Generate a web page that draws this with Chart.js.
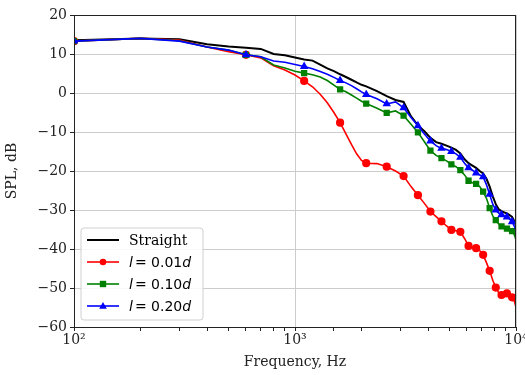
<!DOCTYPE html>
<html>
<head>
<meta charset="utf-8">
<script src="https://cdn.jsdelivr.net/npm/chart.js@4/dist/chart.umd.min.js"></script>
<style>
  html, body { margin: 0; padding: 0; background: #fff; }
  #wrap { width: 525px; height: 375px; }
</style>
</head>
<body>
<div id="wrap"><canvas id="grafica" width="525" height="375"></canvas></div>
<script>
// frecuencias (Hz)
const freq = [100, 200, 300, 400, 500, 600, 700, 800, 900, 1000,
  1100, 1200, 1300, 1400, 1500, 1600, 1700, 1800, 1900, 2000,
  2100, 2350, 2600, 2850, 3100, 3350, 3600, 3850, 4100, 4350,
  4600, 4850, 5100, 5350, 5600, 5850, 6100, 6350, 6600, 6850,
  7100, 7350, 7600, 7850, 8100, 8350, 8600, 8850, 9100, 9350,
  9600, 9850, 10000];

const straight = [13.5, 14.0, 13.8, 12.5, 11.9, 11.6, 11.3, 10.0, 9.7, 9.1,
  8.6, 8.3, 7.3, 6.3, 5.6, 4.8, 4.1, 3.4, 2.7, 2.1,
  1.7, 0.5, -0.8, -1.8, -2.3, -6.0, -8.3, -9.8, -11.5, -12.6,
  -13.0, -13.5, -14.0, -14.6, -15.5, -17.0, -18.0, -18.6, -19.2, -20.0,
  -20.6, -22.0, -24.0, -26.5, -28.5, -29.8, -30.3, -30.6, -30.9, -31.3,
  -31.8, -33.0, -34.0];

const l001 = [13.3, 14.0, 13.6, 11.8, 10.6, 9.8, 9.0, 7.0, 5.9, 4.6,
  3.1, 1.6, -0.3, -2.5, -5.0, -7.6, -10.5, -13.2, -15.6, -17.3,
  -18.0, -18.1, -18.9, -20.0, -21.3, -24.0, -26.2, -28.3, -30.4, -31.7,
  -32.9, -34.1, -35.1, -35.3, -35.6, -37.3, -39.2, -39.6, -39.8, -40.4,
  -41.5, -43.5, -45.6, -48.0, -49.9, -51.2, -51.8, -51.5, -51.4, -52.0,
  -52.4, -53.5, -55.0];

const l010 = [13.3, 14.0, 13.4, 11.8, 11.0, 9.8, 9.3, 7.2, 6.4, 5.6,
  5.1, 4.7, 4.1, 3.2, 2.0, 0.9, 0.3, -0.5, -1.3, -2.1,
  -2.7, -3.9, -5.1, -4.6, -5.8, -8.0, -10.1, -12.5, -14.8, -16.0,
  -16.7, -17.4, -18.3, -18.9, -19.8, -21.0, -22.5, -23.0, -23.3, -24.0,
  -25.3, -27.0, -29.5, -31.5, -32.6, -33.6, -34.2, -34.5, -34.8, -35.1,
  -35.4, -36.5, -37.7];

const l020 = [13.3, 14.0, 13.3, 11.8, 11.0, 9.8, 9.3, 8.2, 7.9, 7.3,
  6.8, 6.2, 5.5, 4.8, 4.0, 3.2, 2.6, 1.9, 1.1, 0.3,
  -0.4, -1.5, -2.8, -2.3, -3.8, -6.3, -8.4, -10.5, -12.3, -13.5,
  -14.2, -14.5, -15.0, -15.6, -16.5, -18.0, -19.2, -19.8, -20.5, -21.0,
  -21.5, -23.5, -26.0, -28.5, -30.0, -30.8, -31.2, -31.5, -31.8, -32.3,
  -33.0, -34.3, -35.2];

const etiquetas = ['Straight', 'l = 0.01d', 'l = 0.10d', 'l = 0.20d'];

function puntos(arr) {
  return freq.map((f, i) => ({ x: f, y: arr[i] }));
}

// marcador cada 500 Hz (100, 600, 1100, ...)
function conMarcador(ctx) {
  return ctx.raw && (ctx.raw.x - 100) % 500 === 0 ? 3.3 : 0;
}

function esMayor(v) {
  const l = Math.log10(v);
  return Math.abs(l - Math.round(l)) < 1e-9;
}

const serif = '"DejaVu Serif", serif';

// leyenda dentro del area, abajo a la izquierda
const leyendaPlugin = {
  id: 'leyenda',
  afterDatasetsDraw(chart) {
    const c = chart.ctx;
    const a = chart.chartArea;
    const x0 = a.left + 7, y0 = a.bottom - 99, w = 122, h = 92;
    c.save();
    c.beginPath();
    c.roundRect(x0, y0, w, h, 3);
    c.fillStyle = 'rgba(255,255,255,0.85)';
    c.fill();
    c.strokeStyle = '#d0d0d0';
    c.lineWidth = 1;
    c.stroke();
    chart.data.datasets.forEach((ds, i) => {
      const y = y0 + 12 + i * 22;
      c.strokeStyle = ds.borderColor;
      c.lineWidth = ds.borderWidth;
      c.beginPath();
      c.moveTo(x0 + 6, y);
      c.lineTo(x0 + 38, y);
      c.stroke();
      const mx = x0 + 22;
      c.fillStyle = ds.borderColor;
      if (ds.pointStyle === 'circle' && i > 0) {
        c.beginPath(); c.arc(mx, y, 3.3, 0, Math.PI * 2); c.fill();
      } else if (ds.pointStyle === 'rect') {
        c.fillRect(mx - 3.2, y - 3.2, 6.4, 6.4);
      } else if (ds.pointStyle === 'triangle') {
        c.beginPath(); c.moveTo(mx, y - 4); c.lineTo(mx + 3.8, y + 2.8); c.lineTo(mx - 3.8, y + 2.8); c.closePath(); c.fill();
      }
      c.fillStyle = '#000';
      c.textBaseline = 'middle';
      let tx = x0 + 48;
      const m = ds.label.match(/^l (= .*)d$/);
      if (m) {
        c.font = 'italic 14px "DejaVu Sans"';
        c.fillText('l', tx, y + 1);
        tx += c.measureText('l').width + 2;
        c.font = '14px "DejaVu Sans"';
        c.fillText(m[1], tx, y + 1);
        tx += c.measureText(m[1]).width;
        c.font = 'italic 14px "DejaVu Sans"';
        c.fillText('d', tx, y + 1);
      } else {
        c.font = '14px ' + serif;
        c.fillText(ds.label, tx, y + 1);
      }
    });
    c.restore();
  }
};

// marco completo del area de la grafica
const marcoPlugin = {
  id: 'marco',
  afterDraw(chart) {
    const c = chart.ctx, a = chart.chartArea;
    c.save();
    c.strokeStyle = '#222';
    c.lineWidth = 1;
    c.strokeRect(a.left + 0.5, a.top + 0.5, a.right - a.left - 1, a.bottom - a.top);
    c.restore();
  }
};

const sup = { 2: '²', 3: '³', 4: '⁴' };

new Chart(document.getElementById('grafica'), {
  type: 'line',
  data: {
    datasets: [
      { label: etiquetas[0], data: puntos(straight), borderColor: '#000000', backgroundColor: '#000000',
        borderWidth: 2, pointRadius: 0, pointStyle: 'circle', tension: 0, order: 4 },
      { label: etiquetas[1], data: puntos(l001), borderColor: '#ff0000', backgroundColor: '#ff0000',
        borderWidth: 1.6, pointRadius: conMarcador, pointStyle: 'circle', tension: 0, order: 3 },
      { label: etiquetas[2], data: puntos(l010), borderColor: '#008000', backgroundColor: '#008000',
        borderWidth: 1.6, pointRadius: conMarcador, pointStyle: 'rect', tension: 0, order: 2 },
      { label: etiquetas[3], data: puntos(l020), borderColor: '#0000ff', backgroundColor: '#0000ff',
        borderWidth: 1.6, pointRadius: conMarcador, pointStyle: 'triangle', tension: 0, order: 1 }
    ]
  },
  options: {
    responsive: false,
    animation: false,
    layout: { padding: { left: 0, right: 9, top: 15, bottom: 0 } },
    plugins: {
      legend: { display: false },
      tooltip: { enabled: false }
    },
    scales: {
      x: {
        type: 'logarithmic',
        min: 100, max: 10000,
        afterFit(s) { s.height = 48; s.paddingLeft = 0; s.paddingRight = 0; },
        grid: {
          color: ctx => esMayor(ctx.tick.value) ? '#cccccc' : 'rgba(0,0,0,0)',
          tickColor: '#222', tickLength: 4, drawTicks: true
        },
        border: { color: '#222' },
        ticks: {
          autoSkip: false, maxRotation: 0, padding: 1,
          color: '#222', font: { family: serif, size: 14 },
          callback: v => esMayor(v) ? '10' + sup[Math.round(Math.log10(v))] : ''
        },
        title: { display: true, text: 'Frequency, Hz', color: '#222', font: { family: serif, size: 14 }, padding: { top: 2 } }
      },
      y: {
        min: -60, max: 20,
        afterFit(s) { s.width = 74; s.paddingTop = 0; s.paddingBottom = 0; },
        grid: { color: '#cccccc', tickColor: '#222', tickLength: 4 },
        border: { color: '#222' },
        ticks: {
          stepSize: 10, padding: 3,
          color: '#222', font: { family: serif, size: 14 },
          callback: v => String(v).replace('-', '\u2212')
        },
        title: { display: true, text: 'SPL, dB', color: '#222', font: { family: serif, size: 14 }, padding: { bottom: 4 } }
      }
    }
  },
  plugins: [marcoPlugin, leyendaPlugin]
});
</script>
</body>
</html>
